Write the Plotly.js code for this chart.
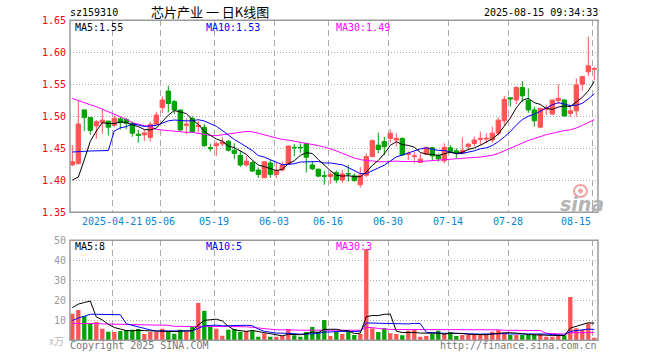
<!DOCTYPE html>
<html>
<head>
<meta charset="utf-8">
<script src="https://cdn.plot.ly/plotly-3.0.1.min.js"></script>
<style>html,body{margin:0;padding:0;background:#fff;}#chart{width:660px;height:360px;}</style>
</head>
<body>
<div id="chart"></div>
<script>
// ---- data ----
const opens = [1.424,1.426,1.510,1.498,1.485,1.490,1.4925,1.486,1.496,1.495,
1.489,1.472,1.471,1.467,1.4875,1.5135,1.5395,1.523,1.510,1.486,
1.497,1.484,1.483,1.451,1.454,1.457,1.461,1.447,1.439,1.424,
1.4275,1.416,1.404,1.427,1.409,1.416,1.425,1.4515,1.4515,1.457,
1.424,1.4175,1.407,1.406,1.412,1.4005,1.4105,1.407,1.393,1.408,
1.437,1.455,1.4605,1.4655,1.463,1.4655,1.4405,1.437,1.428,1.441,
1.451,1.4385,1.4305,1.451,1.446,1.442,1.4525,1.4575,1.464,1.4645,
1.463,1.4735,1.493,1.529,1.5255,1.545,1.5245,1.510,1.483,1.511,
1.5035,1.5245,1.5255,1.5045,1.5085,1.550,1.5695,1.5735];
const highs = [1.455,1.524,1.510,1.498,1.494,1.511,1.4925,1.501,1.499,1.497,
1.492,1.479,1.479,1.4915,1.507,1.531,1.548,1.5255,1.510,1.497,
1.500,1.493,1.488,1.457,1.460,1.468,1.463,1.458,1.446,1.438,
1.430,1.420,1.430,1.432,1.427,1.429,1.4545,1.457,1.458,1.459,
1.430,1.4175,1.4145,1.414,1.415,1.416,1.424,1.411,1.421,1.442,
1.464,1.4745,1.468,1.480,1.4735,1.467,1.445,1.445,1.442,1.4525,
1.4525,1.442,1.458,1.455,1.450,1.467,1.458,1.468,1.476,1.473,
1.484,1.498,1.532,1.529,1.547,1.555,1.5435,1.515,1.5125,1.518,
1.5255,1.550,1.527,1.515,1.559,1.5625,1.6245,1.5775];
const lows = [1.422,1.425,1.477,1.471,1.465,1.473,1.470,1.483,1.479,1.480,
1.468,1.459,1.462,1.461,1.4875,1.505,1.506,1.5035,1.4775,1.472,
1.474,1.474,1.452,1.445,1.438,1.453,1.445,1.433,1.421,1.421,
1.413,1.404,1.404,1.404,1.403,1.414,1.424,1.438,1.443,1.412,
1.416,1.405,1.393,1.394,1.3955,1.396,1.398,1.398,1.3885,1.405,
1.437,1.442,1.4395,1.459,1.4525,1.4385,1.432,1.4265,1.4265,1.440,
1.432,1.429,1.4265,1.442,1.434,1.440,1.447,1.453,1.455,1.458,
1.459,1.470,1.4865,1.515,1.519,1.522,1.5055,1.484,1.482,1.502,
1.502,1.519,1.500,1.499,1.4995,1.540,1.563,1.5565];
const closes = [1.429,1.488,1.498,1.478,1.4915,1.494,1.483,1.497,1.490,1.489,
1.4735,1.470,1.474,1.4875,1.502,1.5255,1.520,1.510,1.4785,1.4875,
1.476,1.486,1.454,1.4495,1.457,1.460,1.447,1.442,1.424,1.430,
1.4145,1.409,1.429,1.409,1.415,1.424,1.4535,1.451,1.451,1.436,
1.418,1.4065,1.4065,1.409,1.4005,1.410,1.410,1.3995,1.408,1.437,
1.462,1.448,1.4525,1.4735,1.4655,1.4395,1.442,1.438,1.433,1.4515,
1.438,1.4335,1.4515,1.445,1.442,1.4465,1.4565,1.463,1.4655,1.4655,
1.4735,1.494,1.5265,1.527,1.545,1.532,1.510,1.493,1.5125,1.5135,
1.5255,1.528,1.5005,1.5085,1.549,1.562,1.579,1.5745];
const volumes = [13.3,15.2,12.2,8.5,9.2,5.8,4.3,4.2,4.7,5.2,
5.3,5.7,3.2,4.2,4.2,5.8,4.2,3.3,5.3,4.3,
6.8,18.7,14.8,6.8,5.8,2.3,5.3,5.7,4.3,4.7,
4.7,1.8,3.5,1.8,1.8,2.2,5.7,2.5,1.8,4.2,
6.7,4.3,10.2,2.2,4.3,3.2,4.3,2.7,3.2,45.7,
6.0,4.2,6.0,3.5,3.2,2.5,4.8,5.7,1.8,2.2,
3.3,4.8,3.2,4.2,2.2,2.7,2.7,2.7,2.7,3.2,
4.3,5.2,3.5,2.7,2.7,2.7,2.7,2.7,3.2,1.8,
1.8,2.7,2.5,21.7,6.0,5.2,8.5,1.3];
// moving-average values before each window is full
const ma5Head = [1.4005,1.405,1.432,1.461];
const ma10Head = [1.4442,1.4442,1.4453,1.4458,1.4458,1.446,1.4465,1.477,1.482];
const ma30Head = [1.528,1.5244,1.5213,1.518,1.515,1.511,1.507,1.503,1.4994,1.4953,
1.490,1.4874,1.4854,1.4838,1.4796,1.4786,1.4775,1.477,1.476,1.475,
1.475,1.4734,1.4708,1.470,1.4697,1.471,1.4723,1.4744,1.4749];
const vma5Head = [16.3,18.1,18.9,19.6];
const vma10Head = [9.9,11.2,12.0,13.0,13.0,13.0,13.0,13.0,12.8];
const vma30Head = [8.4,8.4,8.5,8.6,8.4,8.2,8.1,8.0,8.0,7.9,7.8,7.7,7.7,7.7,7.6,7.6,7.5,7.0,6.9,6.9,6.9,7.0,7.0,7.0,7.0,6.9,6.9,6.8,6.8];
const dateLabels = ['2025-04-21','05-06','05-19','06-03','06-16','06-30','07-14','07-28','08-15'];
const dateIndex = [7,15,24,34,43,53,63,73,87];
const priceTicks = [1.35,1.40,1.45,1.50,1.55,1.60,1.65];
const volTicks = [10,20,30,40,50];
const priceLegend = ['MA5:1.55','MA10:1.53','MA30:1.49'];
const volLegend = ['MA5:8','MA10:5','MA30:3'];
const code = 'sz159310';
const titleText = '芯片产业 一 日K线图';
const stamp = '2025-08-15 09:34:33';

// ---- helpers ----
const W = 660, H = 360;
const px = v => v / W;
const py = v => 1 - v / H;
const idx = closes.map((_, i) => i);
function ma(arr, n, head) {
  return arr.map((v, i) => {
    if (i < n - 1) return head[i];
    let s = 0; for (let j = i - n + 1; j <= i; j++) s += arr[j];
    return s / n;
  });
}
const RED = '#ff5454', GREEN = '#00a300';
const volColors = closes.map((c, i) => c >= opens[i] ? RED : GREEN);
const gridPos = dateIndex.map(i => i - 1/3);
const MONO = 'DejaVu Sans Mono';

const line = (y, color, xa, ya) => ({type:'scatter', mode:'lines', x: idx, y: y, xaxis: xa, yaxis: ya,
  line:{color: color, width: 1}, hoverinfo:'skip'});

const traces = [
  {type:'candlestick', x: idx, open: opens, high: highs, low: lows, close: closes,
   xaxis:'x', yaxis:'y', whiskerwidth: 0, hoverinfo:'skip',
   increasing:{line:{color: RED, width: 1}, fillcolor: RED},
   decreasing:{line:{color: GREEN, width: 1}, fillcolor: GREEN}},
  line(ma(closes, 30, ma30Head), '#ff00ff', 'x', 'y'),
  line(ma(closes, 10, ma10Head), '#0000ff', 'x', 'y'),
  line(ma(closes, 5, ma5Head), '#000000', 'x', 'y'),
  {type:'bar', x: idx, y: volumes, xaxis:'x2', yaxis:'y2', width: 0.72,
   marker:{color: volColors, line:{width: 0}}, hoverinfo:'skip'},
  line(ma(volumes, 30, vma30Head), '#ff00ff', 'x2', 'y2'),
  line(ma(volumes, 10, vma10Head), '#0000ff', 'x2', 'y2'),
  line(ma(volumes, 5, vma5Head), '#000000', 'x2', 'y2')
];

const xr = [(70 - 72.3) / 6, (598 - 72.3) / 6];
const xBase = {range: xr, tickvals: gridPos, showticklabels: false, ticks: '',
  showgrid: true, gridcolor: '#aaaaaa', gridwidth: 1, griddash: '6px,4px',
  zeroline: false, showline: false, fixedrange: true};

const ann = [];
function txt(text, x, y, anchor, color, size, family, extra) {
  ann.push(Object.assign({text: text, x: px(x), y: py(y), xref:'paper', yref:'paper',
    xanchor: anchor, yanchor:'middle', showarrow:false, borderpad:0,
    font:{family: family || MONO, size: size || 10, color: color}}, extra || {}));
}
txt(code, 69, 12.5, 'left', '#000');
txt(titleText, 150, 12, 'left', '#000', 13, 'Noto Sans CJK SC');
txt(stamp, 599, 12.5, 'right', '#000');
const legendX = [74, 205, 335];
const legendC = ['#000000', '#0000ff', '#ff00ff'];
priceLegend.forEach((t, i) => txt(t, legendX[i], 27.5, 'left', legendC[i]));
volLegend.forEach((t, i) => txt(t, legendX[i], 246.5, 'left', legendC[i]));
dateLabels.forEach((t, i) => {
  const last = i === dateLabels.length - 1;
  ann.push({text: t, x: dateIndex[i] - 1/3, y: py(221), xref:'x', yref:'paper',
    xanchor: last ? 'right' : 'center', yanchor:'middle', showarrow:false, borderpad:0,
    font:{family: MONO, size: 10, color:'#0a86d2'}});
});
txt('Copyright 2025 SINA.COM', 69, 345.5, 'left', '#777777');
txt('http://finance.sina.com.cn', 598, 345.5, 'right', '#777777');
txt('x万', 65, 340.5, 'right', '#bbbbbb', 10, 'Noto Sans CJK SC');
txt('sina', 582, 204, 'center', '#b4b4b4', 19, 'DejaVu Sans', {font:{family:'DejaVu Sans', size:19, color:'#b4b4b4', style:'italic', weight:'bold'}});

const shapes = [
  {type:'circle', xref:'paper', yref:'paper', x0: px(574), x1: px(587), y0: py(197), y1: py(185),
   line:{color:'#f2a0a0', width: 2}, fillcolor:'rgba(255,255,255,0)', layer:'above'},
  {type:'circle', xref:'paper', yref:'paper', x0: px(578.5), x1: px(582.5), y0: py(193), y1: py(189),
   line:{color:'#f2a0a0', width: 1}, fillcolor:'#f2a0a0', layer:'above'},
  {type:'rect', xref:'paper', yref:'paper', x0: px(70), x1: px(598), y0: py(212.3), y1: py(20.3),
   line:{color:'#9a9a9a', width: 1.5}, layer:'above'},
  {type:'rect', xref:'paper', yref:'paper', x0: px(70), x1: px(598), y0: py(340.3), y1: py(240.3),
   line:{color:'#9a9a9a', width: 1.5}, layer:'above'}
];

const layout = {
  width: W, height: H, margin:{l:0, r:0, t:0, b:0},
  paper_bgcolor:'#ffffff', plot_bgcolor:'#ffffff', showlegend:false,
  boxgap: 0.28, boxgroupgap: 0,
  xaxis: Object.assign({}, xBase, {domain:[px(70), px(598)], anchor:'y', rangeslider:{visible:false}}),
  xaxis2: Object.assign({}, xBase, {domain:[px(70), px(598)], anchor:'y2'}),
  yaxis: {domain:[py(212.3), py(20.3)], range:[1.35, 1.65], tickvals: priceTicks, tickformat:'.2f',
    tickfont:{family: MONO, size: 10, color:'#ff0000'}, ticks:'', ticklabelstandoff: 3,
    showgrid: true, gridcolor:'#aaaaaa', griddash:'1px,2px', zeroline:false, showline:false, fixedrange:true},
  yaxis2: {domain:[py(340.3), py(240.3)], range:[0, 50], tickvals: volTicks,
    tickfont:{family: MONO, size: 10, color:'#999999'}, ticks:'', ticklabelstandoff: 3,
    showgrid: true, gridcolor:'#aaaaaa', griddash:'1px,2px', zeroline:false, showline:false, fixedrange:true},
  annotations: ann, shapes: shapes
};

Plotly.newPlot('chart', traces, layout, {staticPlot: true, displayModeBar: false});
</script>
</body>
</html>
